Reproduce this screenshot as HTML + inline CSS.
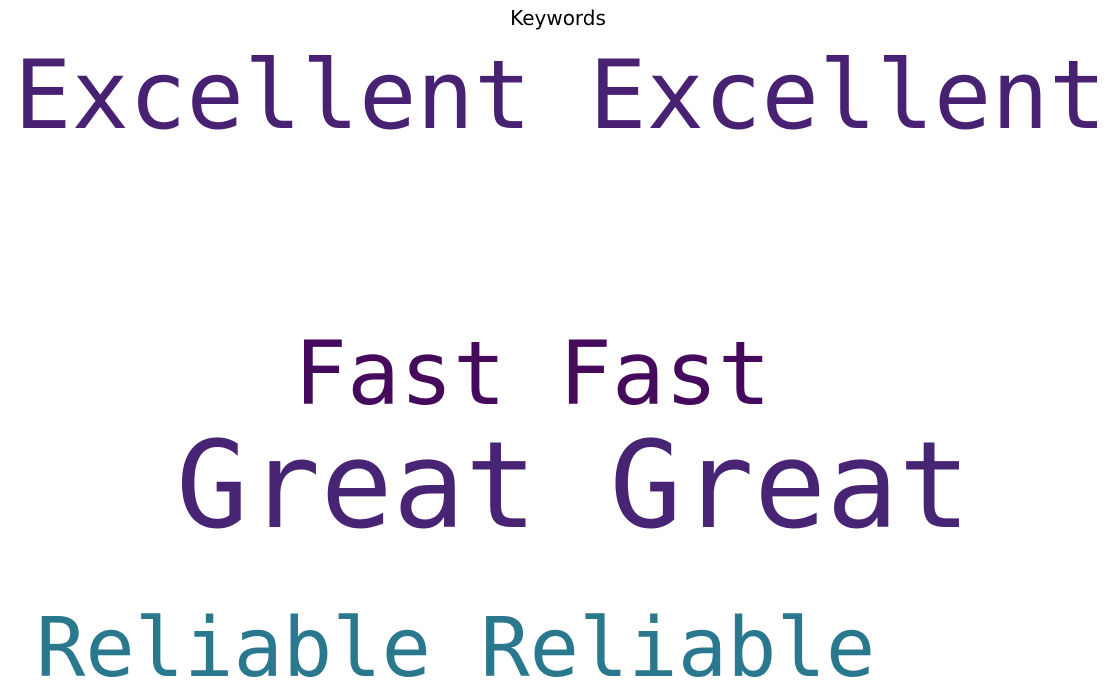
<!DOCTYPE html>
<html>
<head>
<meta charset="utf-8">
<style>
  html,body{margin:0;padding:0;background:#fff;}
  svg{display:block;}
  .w{font-family:"DejaVu Sans Mono","Liberation Mono",monospace;}
</style>
</head>
<body>
<svg width="1117" height="690" viewBox="0 0 1117 690">
  <rect width="1117" height="690" fill="#ffffff"/>
  <text x="558" y="25" text-anchor="middle" font-family="DejaVu Sans, Liberation Sans, sans-serif" font-size="20" fill="#000">Keywords</text>
  <g id="words"></g>
</svg>
<script>
const words = ["Excellent Excellent", "Fast Fast", "Great Great", "Reliable Reliable"];
const sizes = [95.5, 88, 120, 82];
const colors = ["#482173", "#450a5c", "#482475", "#2a788e"];
const xs = [14, 294, 176, 36];
const ys = [128, 404, 527, 676];
const g = document.getElementById('words');
words.forEach((w, i) => {
  const t = document.createElementNS('http://www.w3.org/2000/svg', 'text');
  t.setAttribute('class', 'w');
  t.setAttribute('x', xs[i]);
  t.setAttribute('y', ys[i]);
  t.setAttribute('font-size', sizes[i]);
  t.setAttribute('fill', colors[i]);
  t.textContent = w;
  
  
  g.appendChild(t);
});
</script>
</body>
</html>
